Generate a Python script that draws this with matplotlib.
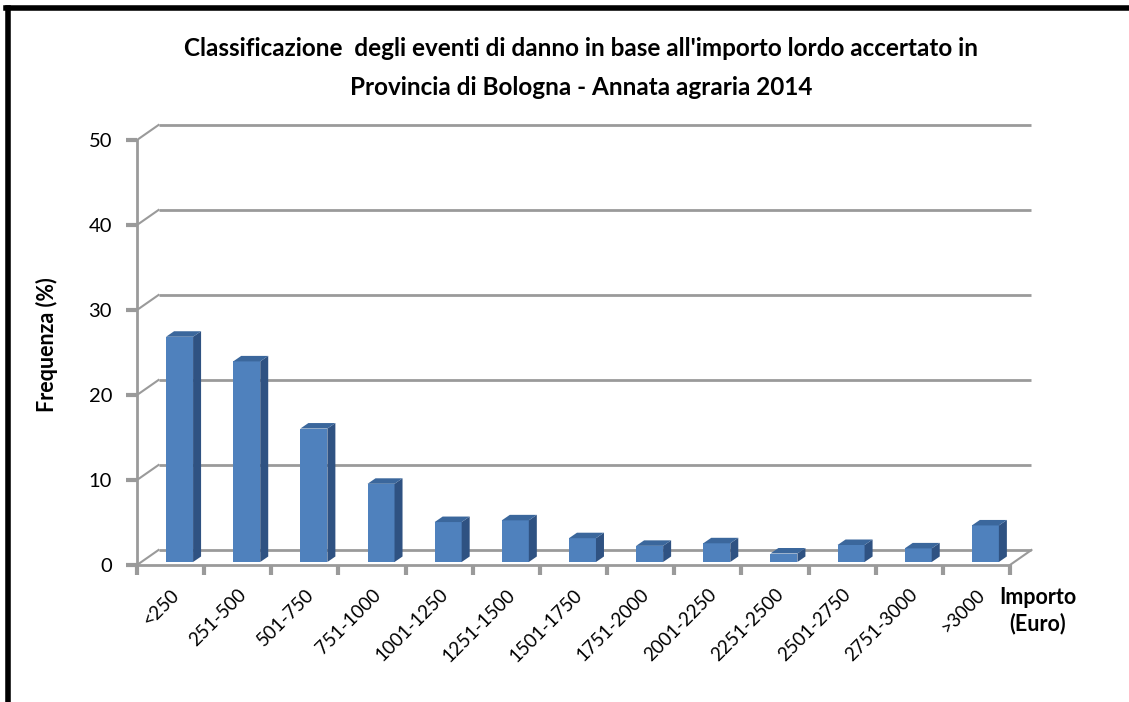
import matplotlib
matplotlib.use("Agg")
import matplotlib.pyplot as plt
from matplotlib.patches import Polygon
from matplotlib.lines import Line2D

categories = ["<250", "251-500", "501-750", "751-1000", "1001-1250", "1251-1500",
              "1501-1750", "1751-2000", "2001-2250", "2251-2500", "2501-2750",
              "2751-3000", ">3000"]
values = [26.5, 23.6, 15.7, 9.2, 4.7, 4.9, 2.8, 1.9, 2.2, 1.0, 2.0, 1.6, 4.3]
y_ticks = [0, 10, 20, 30, 40, 50]
title = ("Classificazione  degli eventi di danno in base all'importo lordo accertato in\n"
         "Provincia di Bologna - Annata agraria 2014")
y_label = "Frequenza (%)"
x_label = "Importo\n(Euro)"

W, H = 1129, 702
fig = plt.figure(figsize=(W / 100, H / 100), dpi=100)
plt.rcParams['font.family'] = ['Lato', 'DejaVu Sans']

# axes placement (pixels)
ax_l, ax_r, ax_b, ax_t = 137, 1045, 565, 112
ax = fig.add_axes([ax_l / W, 1 - ax_b / H, (ax_r - ax_l) / W, (ax_b - ax_t) / H])
px_x = 67.15   # px per category
px_y = 8.5     # px per unit
ax.set_xlim(0, (ax_r - ax_l) / px_x)
ax.set_ylim(0, (ax_b - ax_t) / px_y)

n = len(categories)
dxw = 21.5 / px_x   # back-wall offset
dyw = 15 / px_y
grid_c = "#9a9a9a"

for sp in ["top", "right"]:
    ax.spines[sp].set_visible(False)
ax.spines["left"].set_bounds(0, 50)
ax.spines["bottom"].set_bounds(0, n)
for sp in ["left", "bottom"]:
    ax.spines[sp].set_color(grid_c)
    ax.spines[sp].set_linewidth(2)

# back wall gridlines and connectors
for v in y_ticks:
    ax.plot([dxw, n + dxw], [v + dyw, v + dyw], color=grid_c, lw=2, zorder=1,
            solid_capstyle='butt')
    ax.plot([0, dxw], [v, v + dyw], color=grid_c, lw=1.5, zorder=1)
ax.plot([n, n + dxw], [0, dyw], color=grid_c, lw=1.5, zorder=1)

# bars (pseudo-3D)
front_c = "#4F81BD"
side_c = "#2F5282"
top_c = "#3B679C"
f_off = -4.5 / px_x
f_w = 27 / px_x
b0 = 3 / px_y
ddx = 8 / px_x
ddy = 5.5 / px_y
xs = [i + 0.5 + f_off for i in range(n)]
ax.bar(xs, values, width=f_w, bottom=b0, align='edge', color=front_c,
       edgecolor='none', zorder=3)
for x, v in zip(xs, values):
    top = v + b0
    side = Polygon([(x + f_w, b0), (x + f_w + ddx, b0 + ddy),
                    (x + f_w + ddx, top + ddy), (x + f_w, top)],
                   closed=True, facecolor=side_c, edgecolor='none', zorder=3)
    topf = Polygon([(x, top), (x + ddx, top + ddy), (x + f_w + ddx, top + ddy),
                    (x + f_w, top)], closed=True, facecolor=top_c,
                   edgecolor='none', zorder=3)
    ax.add_patch(side)
    ax.add_patch(topf)

# ticks
ax.set_yticks(y_ticks)
ax.set_yticklabels([str(v) for v in y_ticks], fontsize=14.5)
ax.tick_params(axis='y', direction='out', length=8, width=3, color=grid_c, pad=10)
ax.set_xticks(range(n + 1))
ax.set_xticklabels([])
ax.tick_params(axis='x', direction='out', length=7, width=3, color=grid_c)
ax.set_xticks([i + 0.5 for i in range(n)], minor=True)
ax.set_xticklabels(categories, minor=True, rotation=45, ha='right', va='top',
                   rotation_mode='anchor', fontsize=13.5)
ax.tick_params(axis='x', which='minor', length=0, pad=15)

# texts
fig.text(581 / W, 1 - 68 / H, title, ha='center', va='center',
         fontsize=17.5, fontweight='bold', linespacing=1.8)
fig.text(47 / W, 1 - 345 / H, y_label, rotation=90, ha='center', va='center',
         fontsize=15.5, fontweight='bold')
fig.text(1038 / W, 1 - 611 / H, x_label, ha='center', va='center',
         fontsize=15.5, fontweight='bold', linespacing=1.25)

# outer frame (top and left)
fig.add_artist(Line2D([8 / W, 8 / W], [0, 1 - 8 / H], color='black', lw=4,
                      transform=fig.transFigure))
fig.add_artist(Line2D([6 / W, 1], [1 - 8 / H, 1 - 8 / H], color='black', lw=4,
                      transform=fig.transFigure))

fig.savefig("out.png", dpi=100)
